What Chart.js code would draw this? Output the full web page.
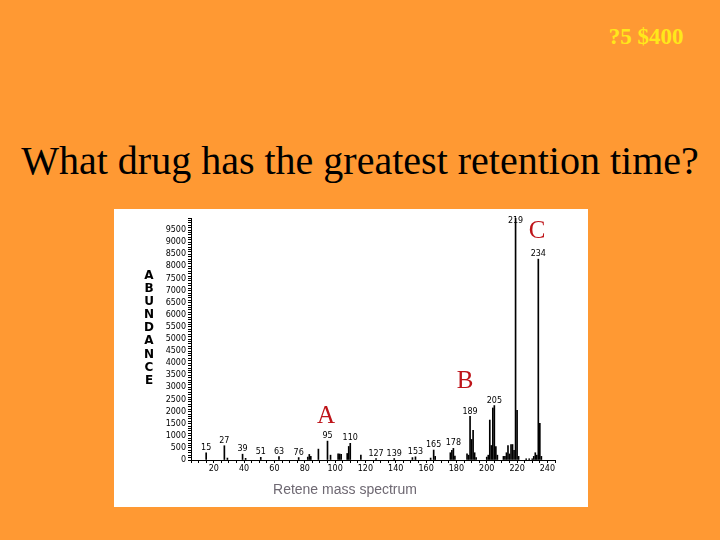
<!DOCTYPE html>
<html lang="en">
<head>
  <meta charset="UTF-8" />
  <title>Retene mass spectrum</title>
  <script src="https://cdn.jsdelivr.net/npm/chart.js"></script>
  <style>
    body { margin:0; width:720px; height:540px; overflow:hidden; background:#FF9933; position:relative; font-family:"Liberation Serif", serif; }
    .slide-no { position:absolute; left:600px; top:24px; width:92px; text-align:center; color:#FFE81A; font-weight:bold; font-size:23px; }
    .question { position:absolute; left:0; top:137px; width:720px; text-align:center; color:#000; font-size:40px; }
    .box { position:absolute; left:114px; top:209px; width:474px; height:298px; background:#fff; }
    .ytitle { position:absolute; left:142px; top:269px; width:14px; text-align:center; font-family:"DejaVu Sans", sans-serif; font-weight:bold; font-size:12px; line-height:13.1px; color:#000; }
    .caption { position:absolute; left:114px; top:481px; width:462px; text-align:center; font-family:"Liberation Sans", sans-serif; font-size:14px; color:#6e6872; }
    .mark { position:absolute; color:#BE1419; font-size:25px; line-height:1; transform:translate(-50%,-50%); }
  </style>
</head>
<body>
  <div class="slide-no">?5 $400</div>
  <div class="question">What drug has the greatest retention time?</div>
  <div class="box"><canvas id="spectrum" width="474" height="298"></canvas></div>
  <div class="ytitle">A<br>B<br>U<br>N<br>D<br>A<br>N<br>C<br>E</div>
  <div class="caption">Retene mass spectrum</div>
  <div class="mark" style="left:326px; top:414px;">A</div>
  <div class="mark" style="left:465px; top:379px;">B</div>
  <div class="mark" style="left:537px; top:229px;">C</div>

  <script>
    // m/z and abundance
    const masses = [15, 27, 29, 39, 41, 51, 63, 76, 82, 83, 84, 89, 95, 97, 102, 103, 104, 108, 109, 110,
      117, 127, 139, 151, 153, 163, 165, 166, 176, 177, 178, 179, 187, 188, 189, 190, 191, 192, 193, 200,
      201, 202, 203, 204, 205, 206, 207, 211, 212, 213, 214, 215, 216, 217, 218, 219, 220, 221, 226, 228,
      230, 231, 232, 233, 234, 235, 236];
    const abundance = [300, 590, 80, 240, 70, 110, 140, 100, 120, 230, 150, 450, 780, 200, 250, 250, 230, 270, 560, 690,
      200, 60, 60, 100, 130, 80, 410, 150, 300, 400, 480, 160, 250, 200, 1800, 850, 1230, 300, 100, 120,
      200, 1650, 600, 2150, 2250, 550, 200, 150, 150, 300, 600, 250, 640, 640, 400, 10000, 2050, 150, 50, 50,
      50, 150, 300, 200, 8300, 1520, 150];
    const labeledPeaks = [15, 27, 39, 51, 63, 76, 95, 110, 127, 139, 153, 165, 178, 189, 205, 219, 234];

    const tickFont = { family: 'DejaVu Sans', size: 8 };

    const peakLabels = {
      id: 'peakLabels',
      afterDatasetsDraw(chart) {
        const { ctx, chartArea } = chart;
        const x = chart.scales.x, y = chart.scales.y;
        ctx.save();
        ctx.font = '8px "DejaVu Sans"';
        ctx.fillStyle = '#000';
        ctx.textAlign = 'center';
        ctx.textBaseline = 'bottom';
        labeledPeaks.forEach(m => {
          const i = masses.indexOf(m);
          const px = x.getPixelForValue(m);
          const py = Math.max(y.getPixelForValue(abundance[i]) - 1, chartArea.top + 7);
          ctx.fillText(String(m), px, py);
        });
        ctx.restore();
      }
    };

    new Chart(document.getElementById('spectrum').getContext('2d'), {
      type: 'bar',
      data: {
        datasets: [{
          data: masses.map((m, i) => ({ x: m, y: abundance[i] })),
          backgroundColor: '#000',
          barThickness: 1
        }]
      },
      options: {
        responsive: false,
        animation: false,
        devicePixelRatio: 1,
        layout: { padding: { left: 0, right: 33, top: 9, bottom: 27 } },
        plugins: { legend: { display: false }, tooltip: { enabled: false } },
        scales: {
          x: {
            type: 'linear', min: 5, max: 245, offset: false,
            border: { color: '#000', width: 1 },
            grid: { drawOnChartArea: false, offset: false, tickLength: 3, color: '#000' },
            ticks: { stepSize: 5, autoSkip: false, maxRotation: 0, padding: 1, color: '#000', font: tickFont,
              callback: v => v % 20 === 0 ? v : '' },
            afterFit: s => { s.height = 20; }
          },
          y: {
            min: 0, max: 10000,
            border: { color: '#000', width: 1 },
            grid: { drawOnChartArea: false, tickLength: 3, color: '#000' },
            ticks: { stepSize: 100, autoSkip: false, padding: 2, color: '#000', font: tickFont,
              callback: v => (v % 500 === 0 && v < 10000) ? v : '' },
            afterFit: s => { s.width = 77; }
          }
        }
      },
      plugins: [peakLabels]
    });
  </script>
</body>
</html>
